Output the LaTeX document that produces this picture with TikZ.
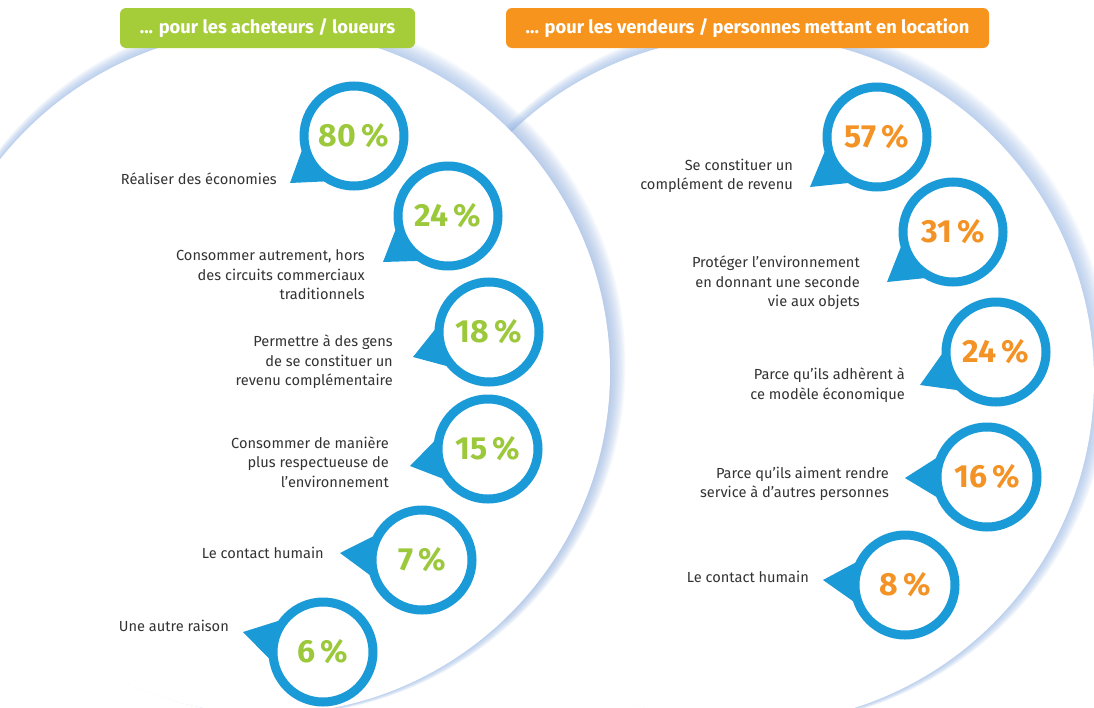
\documentclass[tikz,border=0pt]{standalone}
\usepackage{fontspec}
\setmainfont{Fira Sans}
\usetikzlibrary{calc}
\definecolor{ringblue}{HTML}{1A9AD7}
\definecolor{pctgreen}{HTML}{9CC83B}
\definecolor{pctorange}{HTML}{F39325}
\definecolor{hdgreen}{HTML}{A5CD39}
\definecolor{hdorange}{HTML}{F7941D}
\definecolor{discshadow}{HTML}{8FB0E0}
\definecolor{txtgray}{HTML}{333333}

\begin{document}
\begin{tikzpicture}[x=1pt,y=-1pt,
  bubble/.style={circle,draw=ringblue,line width=9pt,fill=white,minimum size=100pt,
    inner sep=0pt,font=\fontsize{32}{32}\selectfont\bfseries},
  lbl/.style={anchor=east,align=right,text=txtgray,inner sep=0pt,
    font=\fontsize{14.6}{19.5}\selectfont},
  header/.style={rounded corners=6pt,text=white,minimum height=40pt,inner sep=0pt,
    font=\fontsize{18.3}{18.3}\selectfont\bfseries}]
\useasboundingbox (0,0) rectangle (1094,707);
% right disc
\scope
\foreach \i in {1,...,12}
  \fill[discshadow,opacity=0.07] ({750+0.6*\i},{380-0.6*\i}) circle ({344+0.7*\i});
\fill[white] (750,380) circle (344);
\endscope
% left disc
\scope
\foreach \i in {1,...,12}
  \fill[discshadow,opacity=0.07] ({268+0.6*\i},{372-0.6*\i}) circle ({342+0.7*\i});
\fill[white] (268,372) circle (342);
\endscope
% headers
\node[header,fill=hdgreen,minimum width=295pt] (hbuy) at (267.5,28)
  {... pour les acheteurs / loueurs};
\node[header,fill=hdorange,minimum width=483pt] (hsell) at (747.5,28)
  {... pour les vendeurs / personnes mettant en location};
% buyers
\foreach \n/\x/\y/\tx/\ty/\p/\lx/\ly/\txt in {
  l1/354/136/290/183/80/277/179/{Réaliser des économies},
  l2/448/216/383/262/24/365/275/{Consommer autrement, hors\\des circuits commerciaux\\traditionnels},
  l3/489/332/413/357/18/393/362/{Permettre à des gens\\de se constituer un\\revenu complémentaire},
  l4/488/449/410/466/15/389/462/{Consommer de manière\\plus respectueuse de\\l’environnement},
  l5/422/560/340/553/7/324/553/{Le contact humain},
  l6/323/652/243/632/6/229/626/{Une autre raison}}{
  \coordinate (c\n) at (\x,\y);
  \coordinate (t\n) at (\tx,\ty);
  \fill[ringblue] (t\n) -- ($(c\n)!50pt!28:(t\n)$) -- ($(c\n)!50pt!-28:(t\n)$) -- cycle;
  \node[bubble,text=pctgreen] (b\n) at (c\n) {\p\,\%};
  \node[lbl] (lab\n) at (\lx,\ly) {\txt};
}
% sellers
\foreach \n/\x/\y/\tx/\ty/\p/\lx/\ly/\txt in {
  r1/877/137/810/187/57/793/176/{Se constituer un\\complément de revenu},
  r2/953/232/887/282/31/860/283/{Protéger l’environnement\\en donnant une seconde\\vie aux objets},
  r3/996/352/920/385/24/905/385/{Parce qu’ils adhèrent à\\ce modèle économique},
  r4/987/477/905/478/16/889/484/{Parce qu’ils aiment rendre\\service à d’autres personnes},
  r5/905/585/823/580/8/809/577/{Le contact humain}}{
  \coordinate (c\n) at (\x,\y);
  \coordinate (t\n) at (\tx,\ty);
  \fill[ringblue] (t\n) -- ($(c\n)!50pt!28:(t\n)$) -- ($(c\n)!50pt!-28:(t\n)$) -- cycle;
  \node[bubble,text=pctorange] (b\n) at (c\n) {\p\,\%};
  \node[lbl] (lab\n) at (\lx,\ly) {\txt};
}
\end{tikzpicture}
\end{document}
